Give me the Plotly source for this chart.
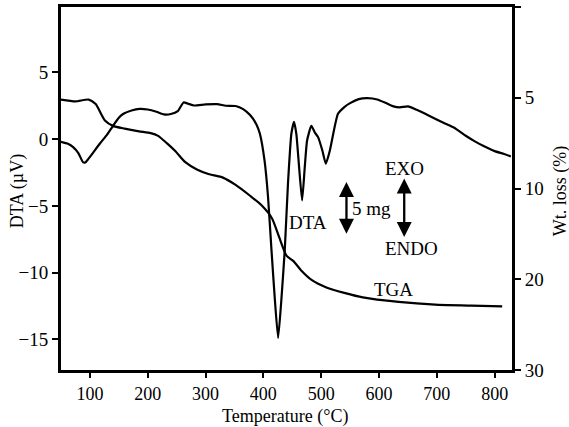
import numpy as np
import plotly.graph_objects as go

# DTA signal (µV) against temperature (°C)
dta_temp = [50, 62, 71, 80, 88, 92, 97, 105, 117, 130, 140, 150, 158, 172, 186, 200,
            215, 228, 240, 252, 262, 270, 280, 300, 320, 335, 352, 365, 377, 388, 394,
            402, 408, 414, 420, 425.5, 431, 437, 442.6, 448.4, 453, 457, 461.8, 467,
            471.6, 475.6, 483, 489, 494.6, 502, 508, 515, 522, 529, 540, 550, 565, 580,
            597, 612, 625, 636, 650, 665, 680, 697, 715, 730, 750, 765, 780, 800, 815, 828]
dta_uv = [-0.2, -0.35, -0.6, -1.05, -1.72, -1.75, -1.5, -1.05, -0.35, 0.35, 1.0, 1.6, 1.9,
          2.15, 2.27, 2.22, 2.05, 1.85, 1.88, 2.1, 2.75, 2.65, 2.52, 2.6, 2.62, 2.5, 2.48,
          2.25, 1.8, 1.1, 0.4, -1.6, -4.3, -8.3, -12.1, -14.9, -12.1, -8.3, -3.3, 0.4,
          1.3, 0.4, -2.1, -4.6, -2.1, -0.1, 1.0, 0.5, 0.15, -0.85, -1.84, -0.85, 0.65,
          1.9, 2.4, 2.7, 3.0, 3.07, 2.97, 2.7, 2.45, 2.38, 2.45, 2.2, 1.9, 1.52, 1.15,
          0.85, 0.25, -0.15, -0.5, -0.9, -1.1, -1.3]

# TGA weight loss (%) against temperature (°C)
tga_temp = [50, 75, 98, 110, 126, 140, 160, 185, 205, 218, 233, 248, 265, 285, 305, 330,
            352, 377, 396, 415, 427, 440, 452, 465, 484, 509, 540, 572, 634, 697, 760, 813]
tga_loss = [5.1, 5.2, 5.1, 5.35, 6.25, 6.55, 6.7, 6.85, 6.95, 7.1, 7.5, 7.95, 8.55, 8.95,
            9.2, 9.4, 9.8, 10.8, 11.8, 13.3, 15.3, 17.4, 18.0, 19.0, 20.1, 20.9, 21.5,
            22.0, 22.5, 22.8, 22.9, 23.0]

x_ticks = [100, 200, 300, 400, 500, 600, 700, 800]
dta_ticks = [-15, -10, -5, 0, 5]
# the weight-loss scale is labelled at evenly spaced positions
wt_tick_values = [0, 5, 10, 20, 30]
wt_tick_text = ["", "5", "10", "20", "30"]
wt_tick_pos = list(range(len(wt_tick_values)))
tga_pos = np.interp(tga_loss, wt_tick_values, wt_tick_pos)

FONT = "Liberation Serif"
fig = go.Figure()
fig.add_trace(go.Scatter(x=dta_temp, y=dta_uv, mode="lines",
                         line=dict(color="black", width=2.2, shape="spline", smoothing=0.5),
                         showlegend=False))
fig.add_trace(go.Scatter(x=tga_temp, y=tga_pos, mode="lines", yaxis="y2",
                         line=dict(color="black", width=2.2, shape="spline", smoothing=0.6),
                         showlegend=False))

axis_common = dict(showline=True, linecolor="black", linewidth=2.8, ticks="outside",
                   tickwidth=2.4, tickcolor="black", showgrid=False,
                   zeroline=False, automargin=False)

fig.update_layout(
    width=569, height=427,
    margin=dict(l=61, r=57, t=7, b=57),
    paper_bgcolor="white", plot_bgcolor="white",
    font=dict(family=FONT, size=18, color="black"),
    xaxis=dict(range=[50, 830], tickvals=x_ticks, mirror=True, ticklen=5,
               tickfont=dict(family=FONT, size=18, color="black"), **axis_common),
    yaxis=dict(range=[-17.3, 9.9], tickvals=dta_ticks, ticklen=6,
               tickfont=dict(family=FONT, size=19, color="black"), **axis_common),
    yaxis2=dict(range=[4, 0], overlaying="y", side="right", anchor="x",
                tickvals=wt_tick_pos, ticktext=wt_tick_text, ticklen=6,
                tickfont=dict(family=FONT, size=19, color="black"), **axis_common),
)

# axis titles
titles = [("Temperature (°C)", 0.497, -0.128, 0), ("DTA (µV)", -0.097, 0.493, -90),
          ("Wt. loss (%)", 1.107, 0.493, -90)]
for txt, px, py, ang in titles:
    fig.add_annotation(x=px, y=py, xref="paper", yref="paper", text=txt, showarrow=False,
                       textangle=ang, xanchor="center", yanchor="middle",
                       font=dict(family=FONT, size=18, color="black"))

labels = [("DTA", 477.6, -6.23), ("5 mg", 587.4, -5.18), ("EXO", 644.4, -2.19),
          ("ENDO", 656.0, -8.17), ("TGA", 625.4, -11.3)]
for txt, tx, ty in labels:
    fig.add_annotation(x=tx, y=ty, text=txt, showarrow=False, xref="x", yref="y",
                       font=dict(family=FONT, size=19, color="black"))

# double-headed scale arrows
for ax_x, y_top, y_bot in [(543.7, -3.22, -7.2), (643.6, -2.96, -7.45)]:
    fig.add_annotation(x=ax_x, y=y_top, ax=ax_x, ay=y_bot, xref="x", yref="y",
                       axref="x", ayref="y", text="", showarrow=True,
                       arrowhead=2, startarrowhead=2, arrowside="end+start",
                       arrowwidth=2.3, arrowsize=1.3, startarrowsize=1.3,
                       arrowcolor="black")

fig.write_html("out.html")
